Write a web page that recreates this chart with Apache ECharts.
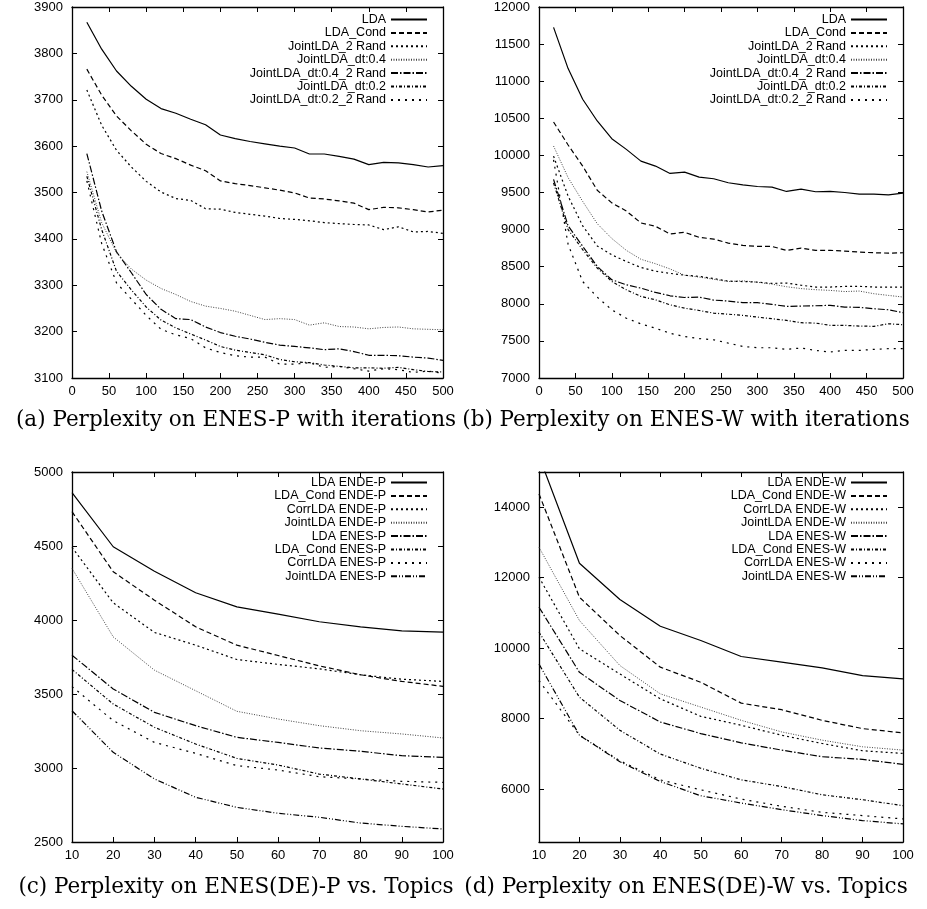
<!DOCTYPE html>
<html>
<head>
<meta charset="utf-8">
<script src="https://cdn.jsdelivr.net/npm/echarts@6/dist/echarts.min.js"></script>
<style>
  html, body { margin: 0; padding: 0; background: #fff; }
  #chart { width: 927px; height: 909px; }
</style>
</head>
<body>
<div id="chart"></div>
<script>
// x values
const iterations = [20, 40, 60, 80, 100, 120, 140, 160, 180, 200, 220, 240, 260, 280, 300, 320, 340, 360, 380, 400, 420, 440, 460, 480, 500];
const topics = [10, 20, 30, 40, 50, 60, 70, 80, 90, 100];

// (a) ENES-P with iterations
const aNames = ['LDA', 'LDA_Cond', 'JointLDA_2 Rand', 'JointLDA_dt:0.4', 'JointLDA_dt:0.4_2 Rand', 'JointLDA_dt:0.2', 'JointLDA_dt:0.2_2 Rand'];
const aLDA = [3867, 3809, 3762, 3729, 3701, 3681, 3671, 3658, 3646, 3624, 3616, 3610, 3605, 3600, 3596, 3583, 3583, 3578, 3572, 3560, 3565, 3564, 3560, 3555, 3558];
const aLDACond = [3766, 3710, 3665, 3633, 3604, 3584, 3573, 3559, 3547, 3525, 3519, 3515, 3510, 3505, 3499, 3488, 3486, 3482, 3477, 3463, 3468, 3467, 3463, 3458, 3462];
const aJoint2Rand = [3721, 3645, 3591, 3555, 3524, 3501, 3487, 3483, 3465, 3464, 3457, 3453, 3449, 3444, 3442, 3439, 3435, 3433, 3431, 3430, 3420, 3426, 3415, 3416, 3412];
const aDt04 = [3545, 3435, 3370, 3335, 3311, 3293, 3280, 3265, 3255, 3250, 3244, 3235, 3226, 3228, 3226, 3214, 3219, 3211, 3210, 3206, 3209, 3210, 3206, 3205, 3204];
const aDt04Rand = [3584, 3460, 3372, 3327, 3280, 3248, 3228, 3226, 3210, 3198, 3190, 3184, 3177, 3171, 3168, 3165, 3161, 3163, 3157, 3149, 3149, 3148, 3145, 3143, 3138];
const aDt02 = [3535, 3420, 3330, 3290, 3253, 3225, 3208, 3195, 3182, 3168, 3160, 3155, 3150, 3140, 3135, 3133, 3128, 3125, 3122, 3122, 3121, 3123, 3118, 3114, 3113];
const aDt02Rand = [3525, 3390, 3305, 3270, 3235, 3205, 3193, 3185, 3165, 3155, 3148, 3145, 3145, 3130, 3130, 3133, 3123, 3125, 3120, 3115, 3120, 3118, 3112, 3115, 3110];

// (b) ENES-W with iterations
const bLDA = [11726, 11170, 10757, 10464, 10225, 10081, 9923, 9856, 9757, 9775, 9707, 9685, 9631, 9604, 9581, 9572, 9514, 9545, 9510, 9514, 9500, 9478, 9478, 9469, 9492];
const bLDACond = [10450, 10140, 9856, 9530, 9360, 9250, 9090, 9045, 8941, 8964, 8896, 8872, 8818, 8787, 8773, 8773, 8720, 8750, 8720, 8720, 8710, 8697, 8688, 8683, 8688];
const bJoint2Rand = [9990, 9450, 9050, 8780, 8660, 8570, 8490, 8440, 8410, 8385, 8370, 8340, 8305, 8300, 8293, 8275, 8280, 8250, 8226, 8226, 8235, 8235, 8226, 8226, 8226];
const bDt04 = [10126, 9700, 9380, 9080, 8880, 8720, 8600, 8540, 8470, 8385, 8360, 8330, 8300, 8310, 8290, 8265, 8230, 8205, 8190, 8181, 8165, 8172, 8136, 8113, 8091];
const bDt04Rand = [9676, 9050, 8775, 8504, 8324, 8256, 8211, 8153, 8108, 8085, 8090, 8050, 8037, 8015, 8015, 7992, 7965, 7970, 7974, 7979, 7956, 7952, 7934, 7920, 7880];
const bDt02 = [9630, 9000, 8730, 8482, 8302, 8189, 8099, 8054, 7986, 7941, 7910, 7874, 7860, 7844, 7821, 7799, 7776, 7745, 7740, 7709, 7709, 7700, 7696, 7731, 7718];
const bDt02Rand = [9940, 8800, 8300, 8090, 7919, 7806, 7730, 7671, 7603, 7558, 7531, 7515, 7470, 7426, 7408, 7408, 7386, 7404, 7372, 7350, 7372, 7372, 7386, 7395, 7395];

// (c) ENES(DE)-P vs topics
const cNames = ['LDA ENDE-P', 'LDA_Cond ENDE-P', 'CorrLDA ENDE-P', 'JointLDA ENDE-P', 'LDA ENES-P', 'LDA_Cond ENES-P', 'CorrLDA ENES-P', 'JointLDA ENES-P'];
const cLDAde = [4860, 4495, 4330, 4184, 4089, 4040, 3988, 3954, 3927, 3918];
const cCondDe = [4732, 4326, 4134, 3954, 3830, 3760, 3690, 3630, 3585, 3552];
const cCorrDe = [4491, 4116, 3916, 3830, 3733, 3700, 3670, 3630, 3600, 3585];
const cJointDe = [4349, 3886, 3661, 3522, 3383, 3331, 3286, 3252, 3230, 3203];
const cLDAes = [3762, 3534, 3376, 3286, 3207, 3173, 3135, 3113, 3083, 3072];
const cCondEs = [3666, 3432, 3275, 3162, 3065, 3020, 2959, 2926, 2892, 2858];
const cCorrEs = [3550, 3320, 3173, 3099, 3016, 2986, 2941, 2926, 2910, 2903];
const cJointEs = [3387, 3106, 2926, 2802, 2734, 2694, 2667, 2628, 2606, 2588];

// (d) ENES(DE)-W vs topics
const dNames = ['LDA ENDE-W', 'LDA_Cond ENDE-W', 'CorrLDA ENDE-W', 'JointLDA ENDE-W', 'LDA ENES-W', 'LDA_Cond ENES-W', 'CorrLDA ENES-W', 'JointLDA ENES-W'];
const dLDAde = [15450, 12411, 11381, 10624, 10218, 9764, 9603, 9440, 9220, 9127];
const dCondDe = [14378, 11447, 10359, 9461, 9033, 8441, 8254, 7953, 7718, 7596];
const dCorrDe = [12014, 9981, 9268, 8563, 8066, 7812, 7530, 7296, 7089, 7014];
const dJointDe = [12865, 10785, 9508, 8704, 8329, 7953, 7624, 7390, 7202, 7108];
const dLDAes = [11163, 9315, 8516, 7906, 7577, 7315, 7108, 6920, 6845, 6704];
const dCondEs = [10454, 8610, 7671, 6995, 6592, 6263, 6075, 5840, 5700, 5530];
const dCorrEs = [9080, 7530, 6807, 6263, 5981, 5718, 5512, 5343, 5249, 5155];
const dJointEs = [9549, 7530, 6779, 6216, 5812, 5606, 5418, 5249, 5108, 5014];

const dYLabels = [6000, 8000, 10000, 12000, 14000];

const captions = [
    '(a) Perplexity on ENES-P with iterations',
    '(b) Perplexity on ENES-W with iterations',
    '(c) Perplexity on ENES(DE)-P vs. Topics',
    '(d) Perplexity on ENES(DE)-W vs. Topics'
];

// gnuplot style mono line types
const dashTypes = ['solid', [5, 3], [2, 3], [1, 1.5], [7, 2, 1.5, 2], [3, 2, 1, 2], [2, 5], [6, 2, 1, 2, 1, 2]];
const lineColors = ['#000', '#000', '#000', '#444', '#000', '#000', '#000', '#000'];

const sansFont = 'Liberation Sans';

const panels = [
    { grid: { left: 72, top: 7, width: 371, height: 371 }, names: aNames, xs: iterations,
      ys: [aLDA, aLDACond, aJoint2Rand, aDt04, aDt04Rand, aDt02, aDt02Rand],
      x: { min: 0, max: 500, interval: 50 }, y: { min: 3100, max: 3900, interval: 100 },
      legendRight: 927 - 428, legendTop: 13 },
    { grid: { left: 539, top: 7, width: 364, height: 371 }, names: aNames, xs: iterations,
      ys: [bLDA, bLDACond, bJoint2Rand, bDt04, bDt04Rand, bDt02, bDt02Rand],
      x: { min: 0, max: 500, interval: 50 }, y: { min: 7000, max: 12000, interval: 500 },
      legendRight: 927 - 888, legendTop: 13 },
    { grid: { left: 72, top: 472, width: 371, height: 370 }, names: cNames, xs: topics,
      ys: [cLDAde, cCondDe, cCorrDe, cJointDe, cLDAes, cCondEs, cCorrEs, cJointEs],
      x: { min: 10, max: 100, interval: 10 }, y: { min: 2500, max: 5000, interval: 500 },
      legendRight: 927 - 428, legendTop: 476 },
    { grid: { left: 539, top: 472, width: 364, height: 370 }, names: dNames, xs: topics,
      ys: [dLDAde, dCondDe, dCorrDe, dJointDe, dLDAes, dCondEs, dCorrEs, dJointEs],
      x: { min: 10, max: 100, interval: 10 }, y: { min: 4500, max: 15000, custom: dYLabels },
      legendRight: 927 - 888, legendTop: 476 }
];

const axisLine = { show: true, onZero: false, lineStyle: { color: '#000', width: 1.3 } };
const axisTick = { show: true, inside: true, length: 5, lineStyle: { color: '#000', width: 1 } };
const labelStyle = { color: '#000', fontFamily: sansFont, fontSize: 13, formatter: v => String(v) };

const grids = [], xAxes = [], yAxes = [], series = [], legends = [], graphics = [];

panels.forEach((p, g) => {
    grids.push(Object.assign({ show: false }, p.grid));
    ['bottom', 'top'].forEach((pos, k) => {
        xAxes.push({
            type: 'value', gridIndex: g, position: pos,
            min: p.x.min, max: p.x.max, interval: p.x.interval,
            axisLine: axisLine, axisTick: axisTick, splitLine: { show: false },
            axisLabel: Object.assign({ show: k === 0, margin: 7 }, labelStyle)
        });
    });
    ['left', 'right'].forEach((pos, k) => {
        const ax = {
            type: 'value', gridIndex: g, position: pos,
            min: p.y.min, max: p.y.max,
            axisLine: axisLine, splitLine: { show: false },
            axisTick: Object.assign({}, axisTick),
            axisLabel: Object.assign({ show: k === 0, margin: 9 }, labelStyle)
        };
        if (p.y.custom) {
            ax.axisTick.customValues = p.y.custom;
            ax.axisLabel.customValues = p.y.custom;
        } else {
            ax.interval = p.y.interval;
        }
        yAxes.push(ax);
    });
    p.ys.forEach((vals, i) => {
        series.push({
            name: p.names[i], type: 'line',
            xAxisIndex: 2 * g, yAxisIndex: 2 * g,
            data: p.xs.map((x, j) => [x, vals[j]]),
            symbol: 'none', clip: true, z: 10 - i,
            itemStyle: { color: 'rgba(0,0,0,0)' },
            lineStyle: { color: lineColors[i], width: i === 3 ? 1 : 1.2, type: dashTypes[i] }
        });
    });
    legends.push({
        data: p.names, orient: 'vertical', align: 'right',
        right: p.legendRight, top: p.legendTop, padding: 0,
        itemWidth: 36, itemHeight: 13, itemGap: 0.4, selectedMode: false,
        itemStyle: { opacity: 0 },
        textStyle: { color: '#000', fontFamily: sansFont, fontSize: 12.5, lineHeight: 13 }
    });
    graphics.push({
        type: 'text',
        x: g % 2 === 0 ? 236 : 686,
        y: g < 2 ? 420 : 887,
        style: {
            text: captions[g], textAlign: 'center', textVerticalAlign: 'middle',
            font: '21.5px "DejaVu Serif"', fill: '#000'
        }
    });
});

const chart = echarts.init(document.getElementById('chart'));
chart.setOption({
    animation: false,
    backgroundColor: '#fff',
    grid: grids,
    xAxis: xAxes,
    yAxis: yAxes,
    legend: legends,
    series: series,
    graphic: graphics
});
</script>
</body>
</html>
